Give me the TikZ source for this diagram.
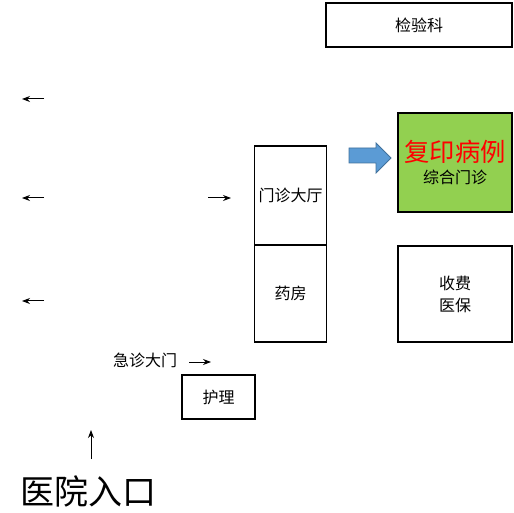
\documentclass[tikz,border=0pt]{standalone}
\usepackage{fontspec}
\setmainfont{Noto Sans CJK SC}
\usetikzlibrary{arrows.meta}
\definecolor{clinicgreen}{HTML}{92D050}
\definecolor{arrowblue}{HTML}{5B9BD5}
\definecolor{arrowedge}{HTML}{41719C}
\tikzset{
	room/.style 2 args={draw=black, line width=0.8pt, minimum width=#1*0.75pt,
		minimum height=#2*0.75pt, inner sep=0pt, align=center,
		font=\fontsize{12}{16.5}\selectfont},
	way/.style={line width=0.75pt, -{Stealth[length=6pt,width=4.5pt]}}
}
\begin{document}
\begin{tikzpicture}[x=0.75pt, y=-0.75pt]
	\useasboundingbox (0,0) rectangle (514,513);
	% Raeume
	\node[room={186}{44}] (lab) at (419, 25) {检验科};
	\node[room={72.5}{99}] (hall) at (290.5, 195.5) {门诊大厅};
	\node[room={72.5}{97}] (pharmacy) at (290.5, 293.5) {药房};
	\node[room={114}{99}, fill=clinicgreen] (clinic) at (455, 162.5)
		{{\fontsize{19}{17}\selectfont\color{red}复印病例}\\综合门诊};
	\node[room={114}{96}] (pay) at (455, 294) {收费\\医保};
	\node[room={73}{44}] (nurse) at (218.5, 397) {护理};
	% Texte
	\node[font=\fontsize{12}{14}\selectfont] (emergency) at (145, 360) {急诊大门};
	\node[font=\fontsize{25.5}{28}\selectfont] (entrance) at (89, 491) {医院入口};
	% blauer Pfeil zum Kopieren
	\filldraw[line width=0.6pt, draw=arrowedge, fill=arrowblue] (349, 148) --
	(376, 148) -- (376, 143) -- (391, 158) -- (376, 173) -- (376, 163) --
	(349, 163) -- cycle;
	% Wegpfeile links
	\foreach \y in {99, 198, 301}
		\draw[way] (44, \y) -- (22, \y);
	\coordinate (hallfrom) at (208, 198);
	\coordinate (hallto) at (231, 198);
	\draw[way] (hallfrom) -- (hallto);
	\coordinate (emfrom) at (189, 362);
	\coordinate (emto) at (211, 362);
	\draw[way] (emfrom) -- (emto);
	\coordinate (upfrom) at (91, 459);
	\coordinate (upto) at (91, 430);
	\draw[way] (upfrom) -- (upto);
\end{tikzpicture}
\end{document}
